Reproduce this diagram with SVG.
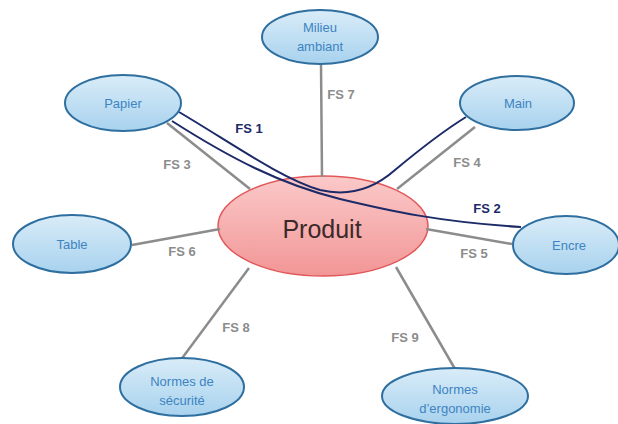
<svg xmlns="http://www.w3.org/2000/svg" width="618" height="424" viewBox="0 0 618 424">
  <defs>
    <linearGradient id="blueFill" x1="0" y1="0" x2="0" y2="1">
      <stop offset="0" stop-color="#d9ecf8"/>
      <stop offset="1" stop-color="#a8d2ee"/>
    </linearGradient>
    <linearGradient id="redFill" x1="0" y1="0" x2="0" y2="1">
      <stop offset="0" stop-color="#fbc9c9"/>
      <stop offset="1" stop-color="#f29696"/>
    </linearGradient>
  </defs>
  <style>
    .node { fill: url(#blueFill); stroke: #2f6f9f; stroke-width: 2; }
    .center { fill: url(#redFill); stroke: #e2585a; stroke-width: 1.5; }
    .label { font-family: "Liberation Sans", Arial, sans-serif; font-size: 13px; fill: #3d84c2; text-anchor: middle; }
    .big { font-family: "Liberation Sans", Arial, sans-serif; font-size: 25px; fill: #3b2a2a; text-anchor: middle; }
    .link { stroke: #8c8c8c; stroke-width: 2.5; fill: none; }
    .flow { stroke: #1c2a68; stroke-width: 2; fill: none; }
    .fs { font-family: "Liberation Sans", Arial, sans-serif; font-size: 13px; font-weight: bold; fill: #8c8c8c; text-anchor: middle; }
    .fsb { font-family: "Liberation Sans", Arial, sans-serif; font-size: 13px; font-weight: bold; fill: #1c2a68; text-anchor: middle; }
  </style>

  <g id="produit">
    <ellipse class="center" cx="323" cy="226" rx="105" ry="50"/>
    <text class="big" x="322" y="238">Produit</text>
  </g>

  <!-- connectors, drawn over the central ellipse -->
  <g id="connectors">
    <line class="link" x1="321" y1="64" x2="322" y2="177"/>
    <line class="link" x1="167" y1="123" x2="250" y2="189"/>
    <line class="link" x1="475" y1="127" x2="397" y2="189"/>
    <line class="link" x1="132" y1="245" x2="220" y2="229"/>
    <line class="link" x1="426" y1="229" x2="512" y2="244"/>
    <line class="link" x1="249" y1="268" x2="180" y2="361"/>
    <line class="link" x1="396" y1="267" x2="455" y2="369"/>
    <!-- FS 1 : Papier to Main -->
    <path class="flow" d="M179,112 C230,142 280,178 320,190 C345,196 370,192 395,170 C425,145 445,130 466,117"/>
    <!-- FS 2 : Papier to Encre -->
    <path class="flow" d="M172,121 C230,158 280,184 340,199 C390,211 440,222 521,227"/>
    <text class="fsb" x="249" y="133">FS 1</text>
    <text class="fsb" x="487" y="213">FS 2</text>
    <text class="fs" x="177" y="169">FS 3</text>
    <text class="fs" x="341" y="99">FS 7</text>
    <text class="fs" x="467" y="167">FS 4</text>
    <text class="fs" x="182" y="256">FS 6</text>
    <text class="fs" x="474" y="258">FS 5</text>
    <text class="fs" x="236" y="332">FS 8</text>
    <text class="fs" x="405" y="342">FS 9</text>
  </g>

  <g id="papier">
    <ellipse class="node" cx="123" cy="103" rx="58" ry="28"/>
    <text class="label" x="123" y="108">Papier</text>
  </g>
  <g id="milieu">
    <ellipse class="node" cx="320" cy="37" rx="58" ry="27"/>
    <text class="label" x="320" y="32">Milieu</text>
    <text class="label" x="320" y="51">ambiant</text>
  </g>
  <g id="main">
    <ellipse class="node" cx="517" cy="103" rx="57" ry="27"/>
    <text class="label" x="518" y="108">Main</text>
  </g>
  <g id="table">
    <ellipse class="node" cx="72" cy="244" rx="59" ry="29"/>
    <text class="label" x="72" y="249">Table</text>
  </g>
  <g id="encre">
    <ellipse class="node" cx="566" cy="245" rx="53" ry="29"/>
    <text class="label" x="569" y="250">Encre</text>
  </g>
  <g id="securite">
    <ellipse class="node" cx="182" cy="387" rx="62" ry="29"/>
    <text class="label" x="182" y="386">Normes de</text>
    <text class="label" x="182" y="405">sécurité</text>
  </g>
  <g id="ergonomie">
    <ellipse class="node" cx="455" cy="396" rx="73" ry="28"/>
    <text class="label" x="455" y="394">Normes</text>
    <text class="label" x="455" y="413">d’ergonomie</text>
  </g>
</svg>
